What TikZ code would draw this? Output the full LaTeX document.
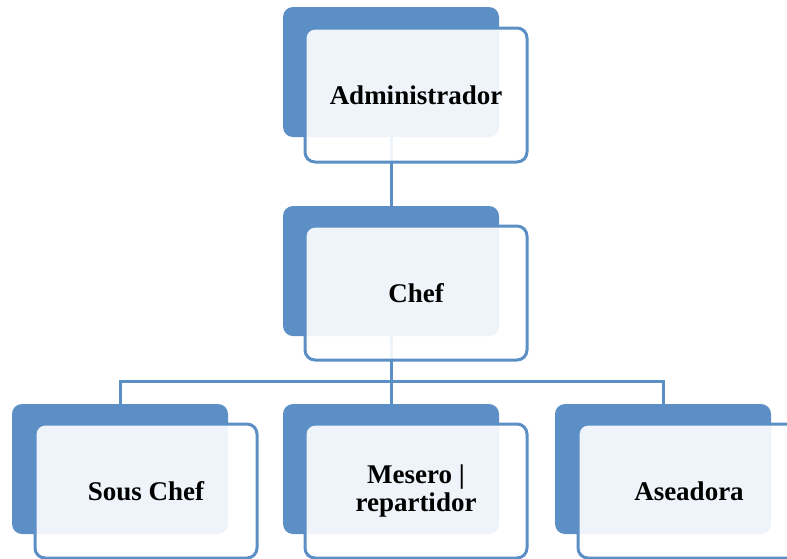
\documentclass[tikz,border=0pt]{standalone}
\usepackage{fontspec}
\setmainfont{Liberation Serif}
\usetikzlibrary{backgrounds}
\definecolor{boxblue}{RGB}{91,143,197}

\begin{document}
\begin{tikzpicture}
  [x=1pt,y=-1pt,
    backbox/.style={rectangle,rounded corners=10pt,fill=boxblue,
      minimum width=216pt,minimum height=130pt,inner sep=0pt},
    frontbox/.style={rectangle,rounded corners=10pt,draw=boxblue,line width=3pt,
      fill=white,fill opacity=0.9,text opacity=1,
      minimum width=222pt,minimum height=134pt,inner sep=0pt,align=center,
      font=\fontsize{27}{28}\selectfont\bfseries},
    link/.style={draw=boxblue,line width=3pt},
  ]
  \useasboundingbox (0,0) rectangle (787,558);
  % upper levels
  \node[backbox] (admback) at (391,72) {};
  \node[frontbox] (adm) at (416,95) {Administrador};
  \node[backbox] (chefback) at (391,271) {};
  \node[frontbox] (chef) at (416,293) {Chef};
  % lower level
  \node[backbox] (sousback) at (120,469) {};
  \node[frontbox] (sous) at (146,491) {Sous Chef};
  \node[backbox] (meseback) at (391,469) {};
  \node[frontbox] (mese) at (416,491) {Mesero |\\repartidor};
  \node[backbox] (aseaback) at (663,469) {};
  \node[frontbox] (asea) at (689,491) {Aseadora};
  \coordinate (bus) at (391,381);
  \begin{pgfonlayer}{background}
    \draw[link] (admback.south) -- (chefback.north);
    \draw[link] (chefback.south) -- (bus);
    \draw[link] (sousback.north) |- (bus) -| (aseaback.north);
    \draw[link] (bus) -- (meseback.north);
  \end{pgfonlayer}
\end{tikzpicture}
\end{document}
